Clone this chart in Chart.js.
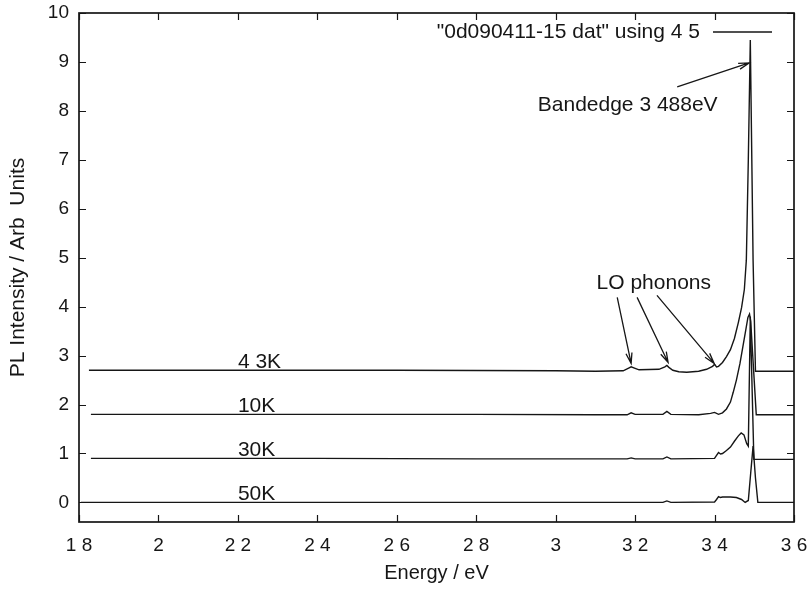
<!DOCTYPE html>
<html>
<head>
<meta charset="utf-8">
<script src="https://cdn.jsdelivr.net/npm/chart.js@4.4.1/dist/chart.umd.min.js"></script>
<style>
  html, body { margin: 0; padding: 0; background: #fff; }
  canvas { display: block; }
</style>
</head>
<body>
<canvas id="plChart" width="810" height="591"></canvas>
<script>
// PL spectra, values as plotted (each trace already carries its vertical offset)
const energy43 = [1.825, 2.2, 2.6, 3.0, 3.1, 3.17, 3.185, 3.19, 3.20, 3.21, 3.26, 3.275, 3.28, 3.285, 3.295, 3.31, 3.33, 3.36, 3.38, 3.395, 3.40, 3.405, 3.41, 3.42, 3.43, 3.44, 3.45, 3.46, 3.468, 3.475, 3.480, 3.485, 3.490, 3.497, 3.503, 3.6];
const pl43     = [2.70, 2.70, 2.70, 2.69, 2.68, 2.69, 2.75, 2.77, 2.74, 2.71, 2.72, 2.77, 2.80, 2.76, 2.70, 2.67, 2.66, 2.68, 2.72, 2.78, 2.82, 2.77, 2.78, 2.86, 2.98, 3.12, 3.35, 3.68, 3.98, 4.35, 4.95, 7.00, 9.45, 4.95, 2.68, 2.68];

const energy10 = [1.83, 2.4, 2.8, 3.1, 3.18, 3.19, 3.20, 3.27, 3.28, 3.29, 3.36, 3.39, 3.40, 3.41, 3.42, 3.43, 3.44, 3.447, 3.455, 3.464, 3.470, 3.477, 3.484, 3.488, 3.491, 3.505, 3.6];
const pl10     = [1.80, 1.80, 1.80, 1.79, 1.79, 1.83, 1.80, 1.80, 1.86, 1.80, 1.79, 1.82, 1.84, 1.80, 1.83, 1.91, 2.05, 2.25, 2.50, 2.84, 3.12, 3.45, 3.78, 3.85, 3.70, 1.79, 1.79];

const energy30 = [1.83, 2.4, 2.8, 3.1, 3.18, 3.19, 3.20, 3.27, 3.28, 3.29, 3.40, 3.405, 3.41, 3.415, 3.42, 3.43, 3.44, 3.45, 3.46, 3.467, 3.474, 3.481, 3.485, 3.490, 3.499, 3.6];
const pl30     = [0.90, 0.90, 0.89, 0.89, 0.89, 0.91, 0.89, 0.89, 0.93, 0.89, 0.90, 0.96, 1.02, 0.99, 1.00, 1.06, 1.13, 1.25, 1.36, 1.42, 1.38, 1.20, 1.15, 3.80, 0.88, 0.88];

const energy50 = [1.805, 2.4, 2.8, 3.1, 3.27, 3.28, 3.29, 3.40, 3.405, 3.41, 3.415, 3.42, 3.44, 3.455, 3.468, 3.477, 3.485, 3.491, 3.497, 3.503, 3.509, 3.6];
const pl50     = [0.00, 0.00, 0.00, 0.00, 0.00, 0.03, 0.00, 0.01, 0.06, 0.12, 0.10, 0.11, 0.11, 0.10, 0.06, 0.00, 0.04, 0.60, 1.15, 0.50, 0.00, 0.00];

const tempLabels  = ['4 3K', '10K', '30K', '50K'];
const tempOffsets = [2.7, 1.8, 0.9, 0.0];

const xTicks = [1.8, 2.0, 2.2, 2.4, 2.6, 2.8, 3.0, 3.2, 3.4, 3.6];
const xTickLabels = ['1 8', '2', '2 2', '2 4', '2 6', '2 8', '3', '3 2', '3 4', '3 6'];
const yTicks = [0, 1, 2, 3, 4, 5, 6, 7, 8, 9, 10];

const legendText = '"0d090411-15 dat" using 4 5';
const bandedgeText = 'Bandedge 3 488eV';
const phononText = 'LO phonons';

const INK = '#161616';
const FAMILY = '"Liberation Sans", Arial, Helvetica, sans-serif';
const LABEL_FONT = '21px ' + FAMILY;
const TICK = 7;

// annotation placement, in data units
const bandedgeLabelAt = [2.955, 8.12];
const bandedgeArrow = [3.306, 8.49, 3.487, 8.98];
const phononLabelAt = [3.103, 4.47];
const phononArrows = [
  [3.155, 4.19, 3.190, 2.84],
  [3.205, 4.19, 3.283, 2.86],
  [3.255, 4.23, 3.399, 2.84],
];
const tempLabelX = 2.2;

function pairs(xs, ys) {
  return xs.map((v, i) => ({ x: v, y: ys[i] }));
}

function trace(xs, ys) {
  return {
    data: pairs(xs, ys),
    borderColor: INK,
    borderWidth: 1.4,
    pointRadius: 0,
    fill: false,
    tension: 0,
  };
}

function arrow(ctx, x0, y0, x1, y1) {
  const ang = Math.atan2(y1 - y0, x1 - x0);
  const len = 11, spread = 0.28;
  ctx.beginPath();
  ctx.moveTo(x0, y0);
  ctx.lineTo(x1, y1);
  ctx.moveTo(x1 - len * Math.cos(ang - spread), y1 - len * Math.sin(ang - spread));
  ctx.lineTo(x1, y1);
  ctx.lineTo(x1 - len * Math.cos(ang + spread), y1 - len * Math.sin(ang + spread));
  ctx.stroke();
}

// gnuplot-like frame, inward ticks, key and labels
const decorations = {
  id: 'decorations',
  afterDatasetsDraw(chart) {
    const { ctx, chartArea: a, scales: { x, y } } = chart;
    ctx.save();
    ctx.strokeStyle = INK;
    ctx.fillStyle = INK;

    ctx.lineWidth = 1.2;
    ctx.beginPath();
    xTicks.forEach(v => {
      const p = Math.round(x.getPixelForValue(v)) + 0.5;
      ctx.moveTo(p, a.bottom); ctx.lineTo(p, a.bottom - TICK);
      ctx.moveTo(p, a.top); ctx.lineTo(p, a.top + TICK);
    });
    yTicks.forEach(v => {
      const p = Math.round(y.getPixelForValue(v)) + 0.5;
      ctx.moveTo(a.left, p); ctx.lineTo(a.left + TICK, p);
      ctx.moveTo(a.right, p); ctx.lineTo(a.right - TICK, p);
    });
    ctx.stroke();

    ctx.lineWidth = 1.7;
    ctx.strokeRect(a.left, a.top, a.right - a.left, a.bottom - a.top);

    ctx.font = LABEL_FONT;
    ctx.textBaseline = 'middle';

    // key
    ctx.textAlign = 'right';
    ctx.fillText(legendText, a.right - 94, a.top + 19);
    ctx.lineWidth = 1.4;
    ctx.beginPath();
    ctx.moveTo(a.right - 81, a.top + 19);
    ctx.lineTo(a.right - 22, a.top + 19);
    ctx.stroke();

    // annotations
    ctx.textAlign = 'left';
    ctx.fillText(bandedgeText, x.getPixelForValue(bandedgeLabelAt[0]), y.getPixelForValue(bandedgeLabelAt[1]));
    ctx.fillText(phononText, x.getPixelForValue(phononLabelAt[0]), y.getPixelForValue(phononLabelAt[1]));
    ctx.lineWidth = 1.3;
    [bandedgeArrow, ...phononArrows].forEach(([ex0, iy0, ex1, iy1]) => {
      arrow(ctx, x.getPixelForValue(ex0), y.getPixelForValue(iy0), x.getPixelForValue(ex1), y.getPixelForValue(iy1));
    });

    // temperature labels sit just above their baselines
    ctx.textBaseline = 'alphabetic';
    tempLabels.forEach((t, i) => {
      ctx.fillText(t, x.getPixelForValue(tempLabelX), y.getPixelForValue(tempOffsets[i]) - 2);
    });
    ctx.restore();
  }
};

new Chart(document.getElementById('plChart'), {
  type: 'line',
  data: {
    datasets: [
      trace(energy43, pl43),
      trace(energy10, pl10),
      trace(energy30, pl30),
      trace(energy50, pl50),
    ],
  },
  options: {
    responsive: false,
    animation: false,
    devicePixelRatio: 1,
    layout: { padding: { left: 0, right: 16, top: 13, bottom: 0 } },
    plugins: {
      legend: { display: false },
      tooltip: { enabled: false },
    },
    scales: {
      x: {
        type: 'linear',
        min: 1.8,
        max: 3.6,
        grid: { display: false, drawTicks: false },
        border: { display: false },
        afterBuildTicks: s => { s.ticks = xTicks.map(v => ({ value: v })); },
        afterFit: s => { s.height = 69; s.paddingLeft = 0; s.paddingRight = 0; },
        ticks: {
          autoSkip: false,
          maxRotation: 0,
          padding: 12,
          color: INK,
          font: { family: FAMILY, size: 19 },
          callback: (v, i) => xTickLabels[i],
        },
        title: {
          display: true,
          text: 'Energy / eV',
          color: INK,
          font: { family: FAMILY, size: 20 },
          padding: { top: 0, bottom: 6 },
        },
      },
      y: {
        min: -0.4,
        max: 10,
        grid: { display: false, drawTicks: false },
        border: { display: false },
        afterBuildTicks: s => { s.ticks = yTicks.map(v => ({ value: v })); },
        afterFit: s => { s.width = 79; s.paddingTop = 0; s.paddingBottom = 0; },
        ticks: {
          padding: 10,
          color: INK,
          font: { family: FAMILY, size: 19 },
        },
        title: {
          display: true,
          text: 'PL Intensity / Arb  Units',
          color: INK,
          font: { family: FAMILY, size: 21 },
          padding: { top: 6, bottom: 0 },
        },
      },
    },
  },
  plugins: [decorations],
});
</script>
</body>
</html>
